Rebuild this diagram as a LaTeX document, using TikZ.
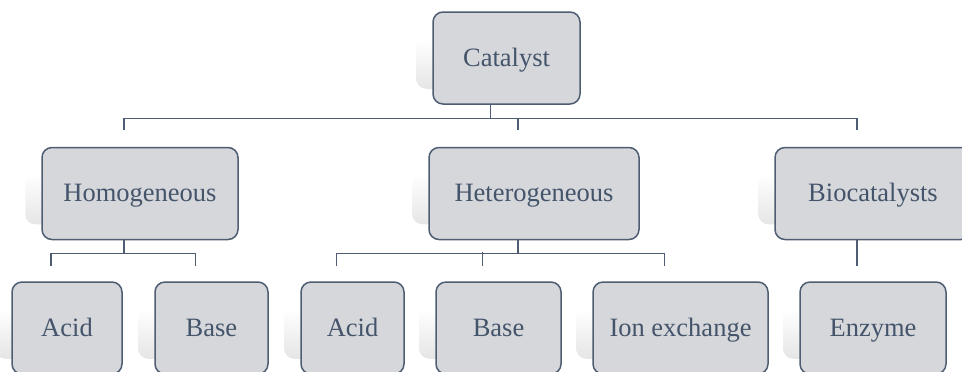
\documentclass[tikz,border=0pt]{standalone}
\usepackage{fontspec}
\setmainfont{Liberation Serif}
\usetikzlibrary{backgrounds}

\definecolor{boxtext}{HTML}{44546A}
\definecolor{boxfill}{HTML}{D5D7DB}
\definecolor{boxline}{HTML}{4E5D72}

\begin{document}
\begin{tikzpicture}[
    x=0.5pt, y=-0.5pt,
    font=\fontsize{13.25pt}{15pt}\selectfont,
    box/.style={draw=boxline, line width=0.75pt, rounded corners=5pt, fill=boxfill, text=boxtext, minimum height=46pt, inner sep=0pt, text height=9pt, text depth=1pt},
    link/.style={draw=boxline, line width=0.7pt},
    glow/.style={rounded corners=5pt, top color=white, bottom color=black!10}
  ]
  \useasboundingbox (0,0) rectangle (962,371);

  \node[box, minimum width=73.5pt] (cat) at (506.5,58) {Catalyst};

  \node[box, minimum width=98pt] (homo) at (140,193.5) {Homogeneous};
  \node[box, minimum width=105pt] (hetero) at (534,193.5) {Heterogeneous};
  \node[box, minimum width=98pt] (bio) at (873,193.5) {Biocatalysts};

  \node[box, minimum width=55pt] (acidA) at (67,328) {Acid};
  \node[box, minimum width=56.5pt] (baseA) at (211.5,328) {Base};
  \node[box, minimum width=51.5pt] (acidB) at (352.5,328) {Acid};
  \node[box, minimum width=62.5pt] (baseB) at (498.5,328) {Base};
  \node[box, minimum width=87.5pt] (ion) at (680.5,328) {Ion exchange};
  \node[box, minimum width=73pt] (enz) at (873,328) {Enzyme};

  % soft shadows behind the boxes
  \begin{scope}[on background layer]
    \foreach \n in {cat, homo, hetero, bio, acidA, baseA, acidB, baseB, ion, enz}
      \path[glow] ([xshift=-8pt,yshift=-13.5pt]\n.north west) rectangle ([xshift=-8pt,yshift=8pt]\n.south east);
  \end{scope}

  % top level
  \draw[link] ([xshift=-8pt]cat.south) -- ++(0,-7pt) coordinate (catbus);
  \draw[link] ([xshift=-8pt,yshift=8.5pt]homo.north) |- (catbus) -| ([xshift=-8pt,yshift=8.5pt]bio.north);
  \draw[link] ([xshift=-8pt,yshift=8.5pt]hetero.north) -- ++(0,6pt);

  % homogeneous
  \draw[link] ([xshift=-8pt]homo.south) -- ++(0,-6.5pt) coordinate (homobus);
  \draw[link] ([xshift=-8pt,yshift=7.5pt]acidA.north) |- (homobus) -| ([xshift=-8pt,yshift=7.5pt]baseA.north);

  % heterogeneous
  \draw[link] ([xshift=-8pt]hetero.south) -- ++(0,-6.5pt) coordinate (hetbus);
  \draw[link] ([xshift=-8pt,yshift=7.5pt]acidB.north) |- (hetbus) -| ([xshift=-8pt,yshift=7.5pt]ion.north);
  \draw[link] ([xshift=-8pt,yshift=7.5pt]baseB.north) -- ++(0,7pt);

  % biocatalysts
  \draw[link] ([xshift=-8pt]bio.south) -- ([xshift=-8pt,yshift=7.5pt]enz.north);
\end{tikzpicture}
\end{document}
